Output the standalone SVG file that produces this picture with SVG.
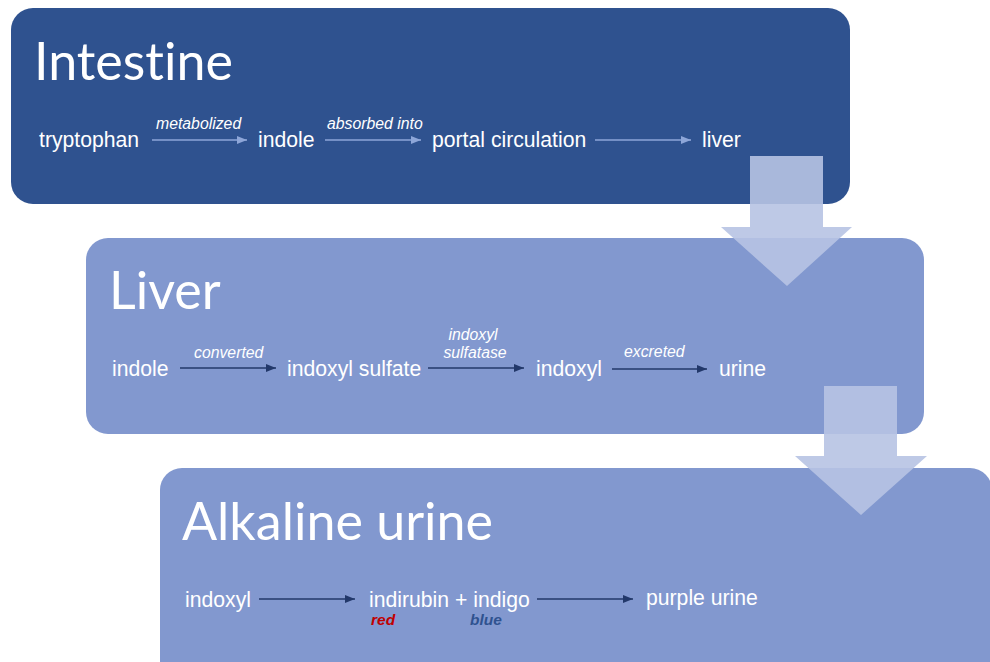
<svg xmlns="http://www.w3.org/2000/svg" width="990" height="662" viewBox="0 0 990 662">
  <defs>
    <style>
      .title { font-family: Lato, "Open Sans", sans-serif; font-size: 52px; fill: #ffffff; font-variant-ligatures: none; font-feature-settings: "liga" 0; }
      .node { font-family: "Liberation Sans", Arial, sans-serif; font-size: 21.2px; fill: #ffffff; }
      .lbl { font-family: "Liberation Sans", Arial, sans-serif; font-size: 15.8px; font-style: italic; fill: #ffffff; }
      .color { font-family: "Liberation Sans", Arial, sans-serif; font-size: 15.5px; font-style: italic; font-weight: bold; }
      .lightc { stroke: #8EA6D8; stroke-width: 1.3; fill: none; marker-end: url(#headLight); }
      .darkc { stroke: #22386A; stroke-width: 1.3; fill: none; marker-end: url(#headDark); }
      .down { fill: #B7C3E3; fill-opacity: 0.9; }
    </style>
    <marker id="headLight" markerUnits="userSpaceOnUse" markerWidth="10" markerHeight="8" refX="10" refY="4" orient="auto">
      <path d="M0,0 L10,4 L0,8 z" fill="#8EA6D8"/>
    </marker>
    <marker id="headDark" markerUnits="userSpaceOnUse" markerWidth="10" markerHeight="8" refX="10" refY="4" orient="auto">
      <path d="M0,0 L10,4 L0,8 z" fill="#22386A"/>
    </marker>
  </defs>

  <rect width="990" height="662" fill="#ffffff"/>

  <g id="intestine">
    <rect x="11" y="8" width="839" height="196" rx="22" fill="#2F528F"/>
    <text class="title" x="34" y="80">Intestine</text>
    <text class="node" x="39" y="147">tryptophan</text>
    <text class="node" x="258" y="147">indole</text>
    <text class="node" x="432" y="147">portal circulation</text>
    <text class="node" x="702" y="147">liver</text>
    <text class="lbl" x="156" y="129">metabolized</text>
    <text class="lbl" x="327" y="129">absorbed into</text>
  </g>

  <g id="liver">
    <rect x="86" y="238" width="838" height="196" rx="22" fill="#8298CF"/>
    <text class="title" x="109" y="309">Liver</text>
    <text class="node" x="112" y="376">indole</text>
    <text class="node" x="287" y="376">indoxyl sulfate</text>
    <text class="node" x="536" y="376">indoxyl</text>
    <text class="node" x="719" y="376">urine</text>
    <text class="lbl" x="194" y="358">converted</text>
    <text class="lbl" x="473" y="340" text-anchor="middle">indoxyl</text>
    <text class="lbl" x="475" y="358" text-anchor="middle">sulfatase</text>
    <text class="lbl" x="624" y="357">excreted</text>
  </g>

  <g id="alkaline-urine">
    <rect x="160" y="468" width="832" height="220" rx="22" fill="#8298CF"/>
    <text class="title" x="182" y="540">Alkaline urine</text>
    <text class="node" x="185" y="607">indoxyl</text>
    <text class="node" x="369" y="607">indirubin + indigo</text>
    <text class="node" x="646" y="605">purple urine</text>
    <text class="color" x="371" y="625" fill="#C00000">red</text>
    <text class="color" x="470" y="625" fill="#2F528F">blue</text>
  </g>

  <g id="connectors">
    <line class="lightc" x1="152" y1="140" x2="247" y2="140"/>
    <line class="lightc" x1="325" y1="140" x2="421" y2="140"/>
    <line class="lightc" x1="595" y1="140" x2="691" y2="140"/>
    <line class="darkc" x1="180" y1="368" x2="276" y2="368"/>
    <line class="darkc" x1="428" y1="368" x2="524" y2="368"/>
    <line class="darkc" x1="612" y1="369" x2="707" y2="369"/>
    <line class="darkc" x1="259" y1="599" x2="355" y2="599"/>
    <line class="darkc" x1="537" y1="599" x2="633" y2="599"/>
    <polygon class="down" points="750,156 823,156 823,227 852,227 787,286 721,227 750,227"/>
    <polygon class="down" points="824,386 897,386 897,456 927,456 861,515 795,456 824,456"/>
  </g>
</svg>
